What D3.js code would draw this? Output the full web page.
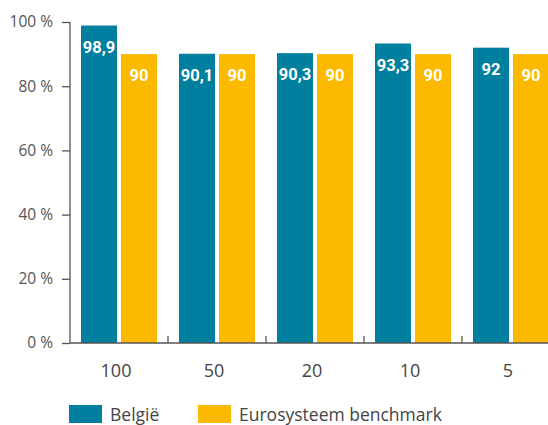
<!DOCTYPE html>
<html lang="nl">
<head>
<meta charset="utf-8">
<script src="https://cdn.jsdelivr.net/npm/d3@7"></script>
<style>
    body { margin: 0; background: #fff; }
    text { font-family: "Open Sans", "DejaVu Sans", sans-serif; }
</style>
</head>
<body>
<script type="text/javascript">

    var categories = ["100", "50", "20", "10", "5"];
    var belgie = [98.9, 90.1, 90.3, 93.3, 92];
    var benchmark = [90, 90, 90, 90, 90];
    var seriesNames = ["België", "Eurosysteem benchmark"];
    var yTicks = [0, 20, 40, 60, 80, 100];

    var colors = ["#017f9e", "#fbba00"];

    var svgWidth = 548;
    var svgHeight = 425;

    var svg = d3.select("body").append("svg")
            .attr("width", svgWidth)
            .attr("height", svgHeight);

    /* plot area */
    var margin = {top: 22, left: 70, bottom: 82};
    var chartHeight = svgHeight - margin.top - margin.bottom;

    var x = d3.scaleBand()
            .domain(categories)
            .range([margin.left, margin.left + 98 * categories.length]);

    var y = d3.scaleLinear()
            .domain([0, 100])
            .range([margin.top + chartHeight, margin.top]);

    var barW = 36, gap = 4, pad = 11;

    var data = categories.map(function(c, i) {
        return {cat: c, values: [belgie[i], benchmark[i]]};
    });

    /* bars */
    var groups = svg.selectAll(".grp")
            .data(data)
            .enter()
            .append("g")
            .attr("class", "grp");

    groups.selectAll("rect")
            .data(function(d) { return d.values.map(function(v, k) { return {cat: d.cat, v: v, k: k}; }); })
            .enter()
            .append("rect")
            .attr("x", function(d) { return x(d.cat) + pad + d.k * (barW + gap); })
            .attr("y", function(d) { return y(d.v); })
            .attr("width", barW)
            .attr("height", function(d) { return y(0) - y(d.v); })
            .style("fill", function(d) { return colors[d.k]; });

    groups.selectAll("text")
            .data(function(d) { return d.values.map(function(v, k) { return {cat: d.cat, v: v, k: k}; }); })
            .enter()
            .append("text")
            .attr("x", function(d) { return x(d.cat) + pad + d.k * (barW + gap) + barW / 2; })
            .attr("y", function(d) { return y(d.v) + 27; })
            .attr("text-anchor", "middle")
            .style("font-family", "Roboto, 'DejaVu Sans Condensed', sans-serif")
            .style("font-weight", "bold")
            .style("font-size", "16.5px")
            .style("fill", "#fff")
            .text(function(d) { return String(d.v).replace(".", ","); });

    /* y axis */
    var yAxis = svg.append("g")
            .attr("transform", "translate(" + margin.left + ",0)")
            .call(d3.axisLeft(y)
                    .tickValues(yTicks)
                    .tickSize(8)
                    .tickPadding(9)
                    .tickFormat(function(d) { return d + " %"; }));
    yAxis.select(".domain").remove();
    yAxis.attr("font-size", null).attr("font-family", null);
    yAxis.selectAll("line").style("stroke", "#555").style("stroke-width", 1.3);
    yAxis.selectAll("text").style("font-size", "15.5px").style("fill", "#555");

    svg.append("line")
            .attr("x1", margin.left).attr("x2", margin.left)
            .attr("y1", y(100)).attr("y2", y(0))
            .style("stroke", "#555").style("stroke-width", 1.3);

    /* x axis */
    svg.append("line")
            .attr("x1", margin.left).attr("x2", svgWidth)
            .attr("y1", y(0)).attr("y2", y(0))
            .style("stroke", "#555").style("stroke-width", 1.3);

    svg.selectAll(".xtick")
            .data(categories.slice(1))
            .enter()
            .append("line")
            .attr("class", "xtick")
            .attr("x1", function(d) { return x(d); })
            .attr("x2", function(d) { return x(d); })
            .attr("y1", y(0))
            .attr("y2", y(0) - 7)
            .style("stroke", "#555").style("stroke-width", 1.3);

    svg.selectAll(".xlabel")
            .data(categories)
            .enter()
            .append("text")
            .attr("class", "xlabel")
            .attr("x", function(d) { return x(d) + x.bandwidth() / 2 - 3; })
            .attr("y", y(0) + 34)
            .attr("text-anchor", "middle")
            .style("font-size", "18px")
            .style("fill", "#444")
            .text(function(d) { return d; });

    /* legend */
    var legend = svg.selectAll(".legend")
            .data(seriesNames)
            .enter()
            .append("g")
            .attr("class", "legend")
            .attr("transform", function(d, i) { return "translate(" + (69 + i * 129) + ",405)"; });

    legend.append("rect")
            .attr("width", 33)
            .attr("height", 18)
            .style("fill", function(d, i) { return colors[i]; });

    legend.append("text")
            .attr("x", 41)
            .attr("y", 16)
            .style("font-size", "17.5px")
            .style("fill", "#444")
            .text(function(d) { return d; });

</script>
</body>
</html>
